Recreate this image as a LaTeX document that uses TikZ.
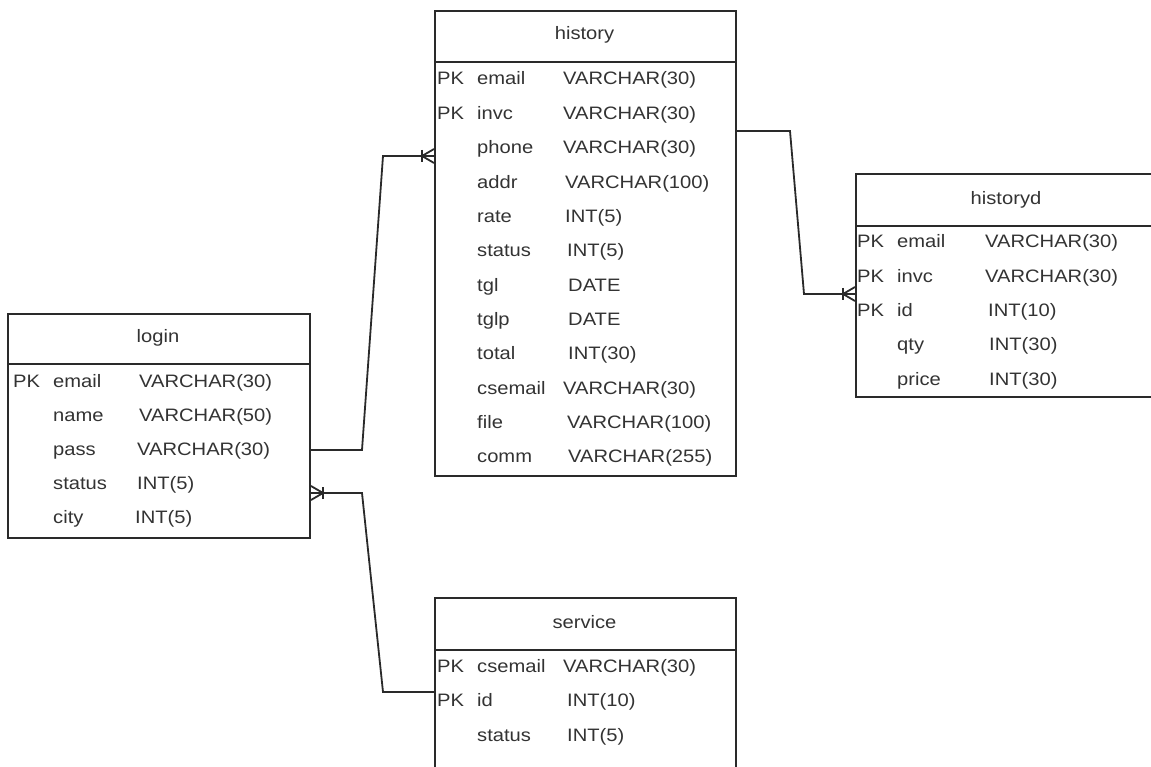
\documentclass[tikz,border=0pt]{standalone}
\usepackage{fontspec}
\setmainfont{Liberation Sans}[FakeStretch=1.12]
\definecolor{ln}{HTML}{2A2A2A}
\definecolor{tx}{HTML}{333333}
\begin{document}
\begin{tikzpicture}[x=1pt,y=-1pt,
  tbl/.style={draw=ln, line width=2pt, anchor=north west, inner sep=0pt, rectangle},
  hdr/.style={draw=ln, line width=2pt},
  txt/.style={anchor=base west, inner sep=0pt, text=tx, font=\fontsize{18}{20}\selectfont},
  ttl/.style={anchor=base, inner sep=0pt, text=tx, font=\fontsize{18}{20}\selectfont},
  conn/.style={draw=ln, line width=1.8pt},
  crowfoot/.pic={
    \draw[conn] (-12,-6) -- (-12,6);
    \draw[conn] (0,-7) -- (-12,0) -- (0,7);
  }]
\useasboundingbox (0,0) rectangle (1151,767);
\fill[white] (0,0) rectangle (1151,767);
\clip (0,0) rectangle (1151,767);

% ---------- tables ----------
\node[tbl, minimum width=301pt, minimum height=465pt] (history) at (434,10) {};
\draw[hdr] ([yshift=-52pt]history.north west) -- ([yshift=-52pt]history.north east);
\node[ttl] (historyT) at (584.5,40) {history};

\node[tbl, minimum width=302pt, minimum height=224pt] (login) at (7,313) {};
\draw[hdr] ([yshift=-51pt]login.north west) -- ([yshift=-51pt]login.north east);
\node[ttl] (loginT) at (158,342) {login};

\node[tbl, minimum width=302pt, minimum height=223pt] (historyd) at (855,173) {};
\draw[hdr] ([yshift=-53pt]historyd.north west) -- ([yshift=-53pt]historyd.north east);
\node[ttl] (historydT) at (1006,205) {historyd};

\node[tbl, minimum width=301pt, minimum height=220pt] (service) at (434,597) {};
\draw[hdr] ([yshift=-53pt]service.north west) -- ([yshift=-53pt]service.north east);
\node[ttl] (serviceT) at (584.5,628) {service};

% ---------- rows ----------
\foreach \pk/\nm/\ty/\tx [count=\i from 0] in {
  PK/email/VARCHAR(30)/563, PK/invc/VARCHAR(30)/563, /phone/VARCHAR(30)/563,
  /addr/VARCHAR(100)/565, /rate/INT(5)/565, /status/INT(5)/567, /tgl/DATE/568,
  /tglp/DATE/568, /total/INT(30)/568, /csemail/VARCHAR(30)/563,
  /file/VARCHAR(100)/567, /comm/VARCHAR(255)/568}{
  \node[txt] (hpk\i) at (437,85+34.36*\i) {\pk};
  \node[txt] (hnm\i) at (477,85+34.36*\i) {\nm};
  \node[txt] (hty\i) at (\tx,85+34.36*\i) {\ty};
}

\foreach \pk/\nm/\ty/\tx [count=\i from 0] in {
  PK/email/VARCHAR(30)/139, /name/VARCHAR(50)/139, /pass/VARCHAR(30)/137,
  /status/INT(5)/137, /city/INT(5)/135}{
  \node[txt] (lpk\i) at (13,387+34*\i) {\pk};
  \node[txt] (lnm\i) at (53,387+34*\i) {\nm};
  \node[txt] (lty\i) at (\tx,387+34*\i) {\ty};
}

\foreach \pk/\nm/\ty/\tx [count=\i from 0] in {
  PK/email/VARCHAR(30)/985, PK/invc/VARCHAR(30)/985, PK/id/INT(10)/988,
  /qty/INT(30)/989, /price/INT(30)/989}{
  \node[txt] (dpk\i) at (857,248+34.25*\i) {\pk};
  \node[txt] (dnm\i) at (897,248+34.25*\i) {\nm};
  \node[txt] (dty\i) at (\tx,248+34.25*\i) {\ty};
}

\foreach \pk/\nm/\ty/\tx [count=\i from 0] in {
  PK/csemail/VARCHAR(30)/563, PK/id/INT(10)/567, /status/INT(5)/567}{
  \node[txt] (spk\i) at (437,672+34.5*\i) {\pk};
  \node[txt] (snm\i) at (477,672+34.5*\i) {\nm};
  \node[txt] (sty\i) at (\tx,672+34.5*\i) {\ty};
}

% ---------- connection points ----------
\coordinate (lA) at (login.east |- 0,450);
\coordinate (lB) at (login.east |- 0,493);
\coordinate (hL) at (history.west |- 0,156);
\coordinate (hR) at (history.east |- 0,131);
\coordinate (dL) at (historyd.west |- 0,294);
\coordinate (sL) at (service.west |- 0,692);

% ---------- connectors ----------
\draw[conn] (lA) -- (362,450) -- (383,156) -- (hL);
\pic at (hL) {crowfoot};
\draw[conn] (hR) -- (790,131) -- (804,294) -- (dL);
\pic at (dL) {crowfoot};
\draw[conn] (lB) -- (362,493) -- (383,692) -- (sL);
\pic[rotate=180] at (lB) {crowfoot};
\end{tikzpicture}
\end{document}
